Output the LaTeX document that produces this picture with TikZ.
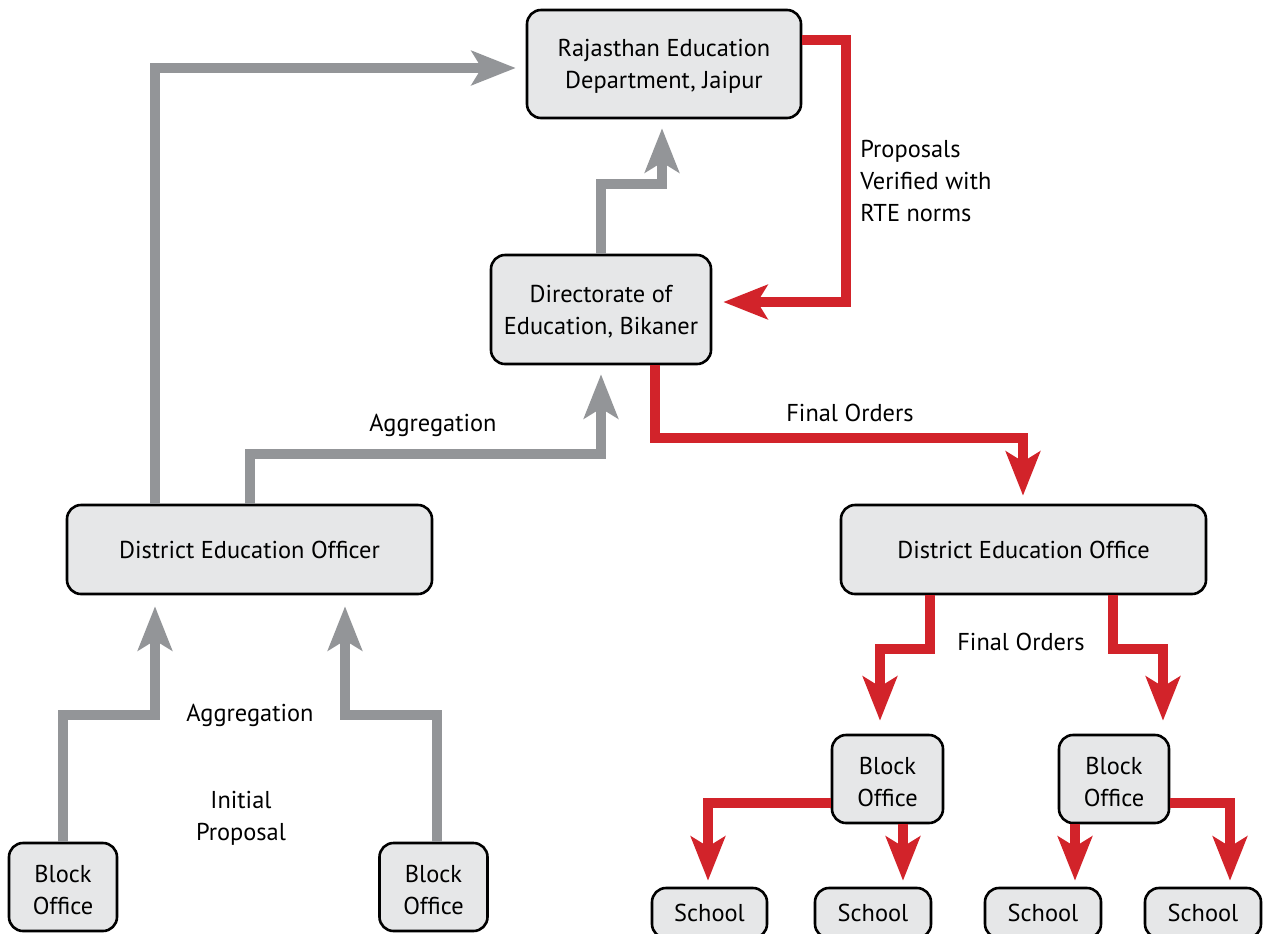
\documentclass[tikz,border=0pt]{standalone}
\usepackage{fontspec}
\setmainfont{PT Sans}
\usepackage{tikz}
\usetikzlibrary{arrows.meta,calc,positioning}
\definecolor{boxgrey}{HTML}{E6E7E8}
\definecolor{flowgrey}{HTML}{939598}
\definecolor{flowred}{HTML}{D2232A}

\tikzset{
  office/.style={draw=black,line width=1.3pt,fill=boxgrey,rounded corners=7pt,
                 align=center,inner sep=0pt,font=\fontsize{12.2}{16}\selectfont},
  label/.style={align=center,inner sep=0pt,font=\fontsize{12.2}{16}\selectfont},
  upflow/.style={flowgrey,line width=5pt,
                 -{Stealth[length=22pt,width=17pt,inset=5pt]}},
  downflow/.style={flowred,line width=5pt,
                 -{Stealth[length=22pt,width=17pt,inset=5pt]}}
}

\begin{document}
\begin{tikzpicture}[x=0.5pt,y=-0.5pt]
    \useasboundingbox (0,0) rectangle (1264,933);

    \node[office,minimum width=137pt,minimum height=54pt] (raj) at (664,64)
         {\strut Rajasthan Education\\Department, Jaipur};
    \node[office,minimum width=110pt,minimum height=54.5pt] (dir) at (601,309.5)
         {\strut Directorate of\\Education, Bikaner};
    \node[office,minimum width=182.5pt,minimum height=44.5pt] (deo) at (249.5,549.5)
         {District Education Officer};
    \node[office,minimum width=182.5pt,minimum height=44.5pt] (deoff) at (1023.5,549.5)
         {District Education Office};
    \node[office,minimum width=54pt,minimum height=44pt] (blk1) at (63,887) {\strut Block\\Office};
    \node[office,minimum width=54pt,minimum height=44pt] (blk2) at (433.5,887) {\strut Block\\Office};
    \node[office,minimum width=55.5pt,minimum height=44pt] (blk3) at (887.5,779) {\strut Block\\Office};
    \node[office,minimum width=55pt,minimum height=44pt] (blk4) at (1114,779) {\strut Block\\Office};
    \node[office,minimum width=57.5pt,minimum height=25pt] (s1) at (709.5,913) {School};
    \node[office,minimum width=58pt,minimum height=25pt] (s2) at (873,913) {School};
    \node[office,minimum width=58pt,minimum height=25pt] (s3) at (1043,913) {School};
    \node[office,minimum width=58pt,minimum height=25pt] (s4) at (1203,913) {School};

    \draw[upflow] ($(deo.north)+(-94.5,0)$) |- ($(raj.west)+(-10,4)$);
    \draw[upflow] ($(deo.north)+(0.5,0)$) -- ++(0,-50) -| ($(dir.south)+(0,9)$);
    \draw[upflow] (dir.north) -- ++(0,-70) -| ($(raj.south)+(-2,9)$);
    \draw[upflow] (blk1.north) -- ++(0,-127) -| ($(deo.south)+(-94.5,11)$);
    \draw[upflow] ($(blk2.north)+(3.5,0)$) -- ++(0,-127) -| ($(deo.south)+(95.5,11)$);

    \draw[downflow] ($(raj.east)+(0,-24)$) -- ++(44,0) |- ($(dir.east)+(11,-7.5)$);
    \draw[downflow] ($(dir.south)+(54,0)$) -- ++(0,73) -| ($(deoff.north)+(-0.5,-8)$);
    \draw[downflow] ($(deoff.south)+(-93.5,0)$) -- ++(0,54) -| ($(blk3.north)+(-7.5,-13)$);
    \draw[downflow] ($(deoff.south)+(89.5,0)$) -- ++(0,54) -| ($(blk4.north)+(49,-13)$);
    \draw[downflow] ($(blk3.west)+(0,24)$) -| ($(s1.north)+(-1.5,-6)$);
    \draw[downflow] ($(blk3.south)+(15.5,0)$) -- ($(s2.north)+(30,-6)$);
    \draw[downflow] ($(blk4.south)+(-39,0)$) -- ($(s3.north)+(32,-6)$);
    \draw[downflow] ($(blk4.east)+(0,24)$) -| ($(s4.north)+(27,-6)$);

    \node[label,align=left,anchor=west] (rte) at (860,181) {Proposals\\Verified with\\RTE norms};
    \node[label] (agg1) at (433,425) {Aggregation};
    \node[label] (fin1) at (850,413) {Final Orders};
    \node[label] (fin2) at (1021,642) {Final Orders};
    \node[label] (agg2) at (250,715) {Aggregation};
    \node[label] (init) at (241,818) {Initial\\Proposal};
\end{tikzpicture}
\end{document}
